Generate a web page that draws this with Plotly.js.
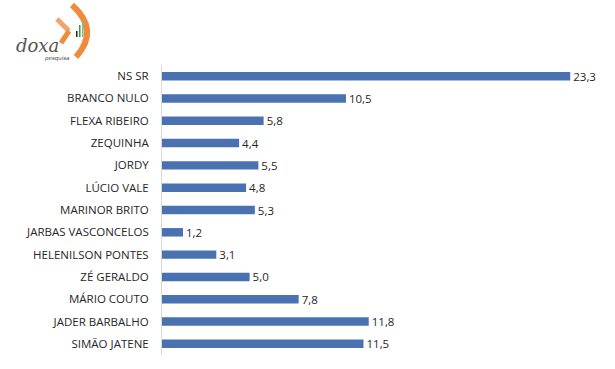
<!DOCTYPE html>
<html><head><meta charset="utf-8">
<script src="https://cdn.plot.ly/plotly-3.0.1.min.js"></script>
<style>html,body{margin:0;padding:0;background:#fff}#chart{width:615px;height:369px}</style>
</head><body><div id="chart"></div>
<script>
const categories = ["NS SR","BRANCO NULO","FLEXA RIBEIRO","ZEQUINHA","JORDY","LÚCIO VALE","MARINOR BRITO","JARBAS VASCONCELOS","HELENILSON PONTES","ZÉ GERALDO","MÁRIO COUTO","JADER BARBALHO","SIMÃO JATENE"];
const values = [23.3,10.5,5.8,4.4,5.5,4.8,5.3,1.2,3.1,5.0,7.8,11.8,11.5];
const valueLabels = values.map(v => v.toFixed(1).replace('.', ','));

const W = 615, H = 369, L = 162, R = 15, T = 65, B = 14;
const pw = W - L - R, ph = H - T - B;
const px = x => (x - L) / pw;
const py = y => (H - B - y) / ph;

const trace = {
  type: 'bar', orientation: 'h',
  y: categories, x: values,
  text: valueLabels, textposition: 'outside', cliponaxis: false, constraintext: 'none',
  textfont: {family: 'Open Sans, sans-serif', size: 11.5, color: '#262626'},
  marker: {color: '#4a72b0', line: {width: 0}},
  hoverinfo: 'none'
};

const orange = '#f08a3c';
const shapes = [
  {type:'path', xref:'paper', yref:'paper',
   path:`M ${px(72)} ${py(5)} Q ${px(100)} ${py(30)} ${px(76)} ${py(57)}`,
   line:{color:orange, width:6}},
  {type:'path', xref:'paper', yref:'paper',
   path:`M ${px(57)} ${py(19)} L ${px(69)} ${py(31)}`,
   line:{color:'#f5a36a', width:5}},
  {type:'path', xref:'paper', yref:'paper',
   path:`M ${px(69)} ${py(31)} L ${px(61)} ${py(43)}`,
   line:{color:orange, width:5}},
  {type:'rect', xref:'paper', yref:'paper', x0:px(76), x1:px(77.5), y0:py(37), y1:py(31), fillcolor:'#222', line:{width:0}},
  {type:'rect', xref:'paper', yref:'paper', x0:px(79), x1:px(80.5), y0:py(37), y1:py(25), fillcolor:'#2e9b46', line:{width:0}},
  {type:'rect', xref:'paper', yref:'paper', x0:px(82), x1:px(83.5), y0:py(37), y1:py(20), fillcolor:'#7cc47f', line:{width:0}}
];

const annotations = [
  {xref:'paper', yref:'paper', x:px(14), y:py(45), xanchor:'left', yanchor:'middle', showarrow:false,
   text:'<i>doxa</i>', font:{family:'DejaVu Serif, serif', size:18, color:'#555'}},
  {xref:'paper', yref:'paper', x:px(42), y:py(59), xanchor:'left', yanchor:'middle', showarrow:false,
   text:'<i>pesquisa</i>', font:{family:'DejaVu Sans, sans-serif', size:5.5, color:'#444'}}
];

const layout = {
  width: W, height: H,
  margin: {l: L, r: R, t: T, b: B, pad: 0},
  paper_bgcolor: '#fff', plot_bgcolor: '#fff',
  showlegend: false,
  bargap: 0.62,
  xaxis: {range: [0, 25], showgrid: false, zeroline: false, showticklabels: false, ticks: '', showline: false, fixedrange: true},
  yaxis: {autorange: 'reversed', type: 'category', showgrid: false, zeroline: false,
          showline: true, linecolor: '#d9d9d9', linewidth: 1, ticks: '', ticklabelstandoff: 10,
          tickfont: {family: 'Open Sans, sans-serif', size: 11.5, color: '#262626'}, fixedrange: true},
  shapes: shapes, annotations: annotations
};

Plotly.newPlot('chart', [trace], layout, {displayModeBar: false, staticPlot: true});
</script></body></html>
